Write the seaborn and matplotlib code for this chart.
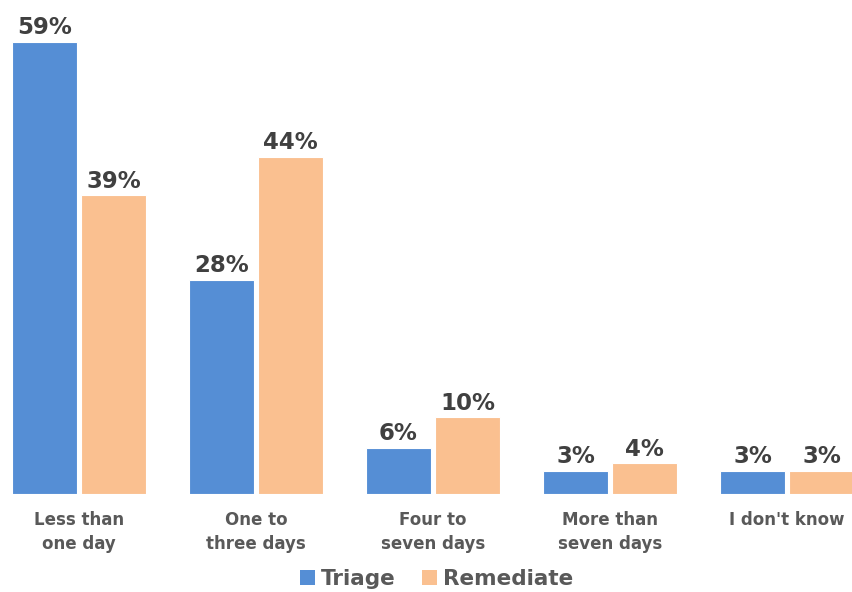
import matplotlib
matplotlib.use("Agg")
import matplotlib.pyplot as plt
import seaborn as sns
import pandas as pd
from matplotlib.patches import Patch


# ======================
# Data
# ======================

categories = [
    "Less than\none day",
    "One to\nthree days",
    "Four to\nseven days",
    "More than\nseven days",
    "I don't know",
]

triage = [59, 28, 6, 3, 3]
remediate = [39, 44, 10, 4, 3]

series = ["Triage", "Remediate"]
colors = ["#558ED5", "#FAC090"]

df = pd.DataFrame({
    "category": categories * 2,
    "value": triage + remediate,
    "series": ["Triage"] * len(categories) + ["Remediate"] * len(categories),
})


# ======================
# Plot
# ======================

sns.set_style("white")
plt.rcParams["font.family"] = ["DejaVu Sans"]

fig = plt.figure(figsize=(8.53, 5.92), dpi=100)
ax = fig.add_axes([0, 1 - 494 / 592, 1, 494 / 592])

sns.barplot(
    data=df,
    x="category",
    y="value",
    hue="series",
    palette=colors,
    saturation=1,
    width=0.78,
    gap=0.045,
    edgecolor="white",
    linewidth=0.8,
    legend=False,
    ax=ax,
)

for container in ax.containers:
    ax.bar_label(
        container,
        labels=[f"{v:.0f}%" for v in container.datavalues],
        padding=2,
        fontsize=16.5,
        fontweight="heavy",
        color="#404040",
    )

ax.set_xlim(-79 / 177, (853 - 79) / 177)
ax.set_ylim(0, 64.5)

ax.set_xlabel("")
ax.set_ylabel("")
ax.set_yticks([])
ax.tick_params(axis="x", length=0, pad=12, labelsize=12, labelcolor="#595959")
for lbl in ax.get_xticklabels():
    lbl.set_fontweight("bold")
    lbl.set_linespacing(1.45)

sns.despine(ax=ax, left=True, bottom=True)

handles = [Patch(facecolor=c, edgecolor="none") for c in colors]
fig.legend(
    handles,
    series,
    loc="center",
    bbox_to_anchor=(0.512, 0.022),
    ncol=2,
    frameon=False,
    handlelength=0.7,
    handleheight=0.7,
    handletextpad=0.3,
    columnspacing=1.2,
    prop={"size": 15.5, "weight": "bold"},
    labelcolor="#595959",
)

fig.savefig("out.png", dpi=100)
plt.close(fig)
